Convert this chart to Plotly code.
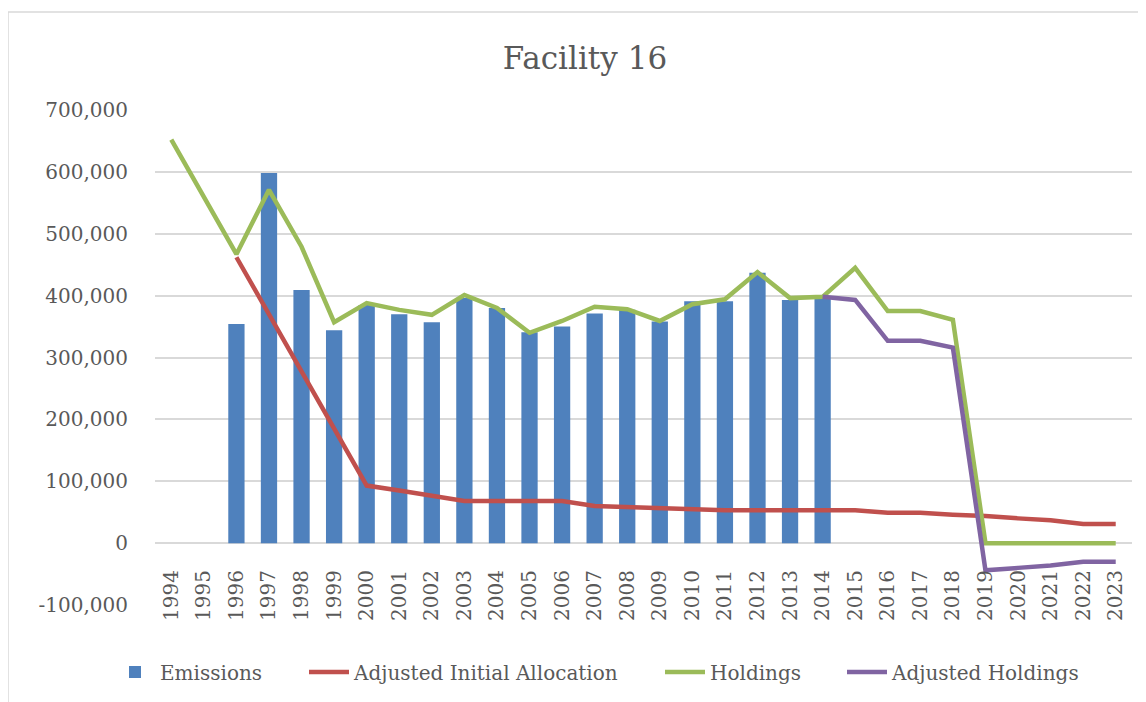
import plotly.graph_objects as go

years = [str(y) for y in range(1994, 2024)]

emissions = [None, None, 354000, 598000, 409000, 344000, 385000, 370000, 357000, 396000,
             380000, 341000, 350000, 371000, 377000, 358000, 391000, 391000, 437000, 393000,
             395000, None, None, None, None, None, None, None, None, None]

adj_initial_allocation = [None, None, 462000, 370000, 280000, 187000, 93000, 85000, 76000, 68000,
                          68000, 68000, 68000, 60000, 58000, 56000, 55000, 53000, 53000, 53000,
                          53000, 53000, 49000, 49000, 46000, 44000, 40000, 37000, 31000, 31000]

holdings = [652000, 558000, 467000, 571000, 479000, 357000, 388000, 377000, 369000, 401000,
            380000, 340000, 359000, 382000, 378000, 359000, 386000, 394000, 438000, 396000,
            398000, 445000, 375000, 375000, 361000, 0, 0, 0, 0, 0]

adj_holdings = [None] * 20 + [398000, 393000, 327000, 327000, 316000, -44000, -40000, -36000, -30000, -30000]

y_ticks = [-100000, 0, 100000, 200000, 300000, 400000, 500000, 600000, 700000]
y_tick_text = [f"{v:,}" for v in y_ticks]

FONT = "DejaVu Serif"
TXT = "#595959"

fig = go.Figure()
fig.add_trace(go.Bar(x=years, y=emissions, name="Emissions", marker_color="#4f81bd",
                     marker_line_width=0, width=0.5, legend="legend"))
fig.add_trace(go.Scatter(x=years, y=adj_initial_allocation, name="Adjusted Initial Allocation",
                         mode="lines", line=dict(color="#c0504d", width=4.5), legend="legend2"))
fig.add_trace(go.Scatter(x=years, y=holdings, name="Holdings",
                         mode="lines", line=dict(color="#9bbb59", width=4.5), legend="legend3"))
fig.add_trace(go.Scatter(x=years, y=adj_holdings, name="Adjusted Holdings",
                         mode="lines", line=dict(color="#8064a2", width=4.5), legend="legend4"))

# page offset (body margin) of 8px in the screenshot
OFF = 8
W, H = 1146, 702
L = 155 - OFF
T = 110 - OFF
plot_right = 1132 - OFF
plot_bottom = 605 - OFF
R = W - plot_right
B = H - plot_bottom
pw, ph = W - L - R, H - T - B

def px_x(x):
    return (x - OFF - L) / pw

def px_y(y):
    return (plot_bottom - (y - OFF)) / ph

def leg(text_start):
    return dict(orientation="h", x=px_x(text_start - 48), xref="paper", xanchor="left",
                y=px_y(672), yanchor="middle",
                font=dict(family=FONT, size=20, color=TXT), itemwidth=40,
                bgcolor="rgba(0,0,0,0)")

fig.update_layout(
    width=W, height=H,
    margin=dict(l=L, r=R, t=T, b=B, autoexpand=False),
    paper_bgcolor="white", plot_bgcolor="white",
    font=dict(family=FONT, color=TXT, size=20),
    title=dict(text="Facility 16", x=px_x(585), xref="paper", xanchor="center",
               y=1 - (58 - OFF) / H, yanchor="middle",
               font=dict(family=FONT, size=31, color=TXT)),
    showlegend=True,
    legend=leg(158),
    legend2=leg(352),
    legend3=leg(708),
    legend4=leg(890),
    bargap=0.5,
    xaxis=dict(type="category", categoryorder="array", categoryarray=years,
               tickangle=-90, tickfont=dict(family=FONT, size=20, color=TXT),
               showgrid=False, showline=False, ticks="", zeroline=False,
               anchor="free", position=px_y(543), ticklabelstandoff=22,
               tickmode="array", tickvals=years, ticktext=years),
    yaxis=dict(range=[-100000, 700000], tickvals=y_ticks, ticktext=y_tick_text,
               tickfont=dict(family=FONT, size=20, color=TXT),
               showgrid=True, gridcolor="#d9d9d9", gridwidth=1.5,
               zeroline=True, zerolinecolor="#d9d9d9", zerolinewidth=1.5,
               showline=False, ticks="", ticklabelstandoff=26),
    shapes=[dict(type="rect", xref="paper", yref="paper",
                 x0=px_x(8), x1=px_x(1160), y0=px_y(715), y1=px_y(12),
                 line=dict(color="#d9d9d9", width=1.5), fillcolor="rgba(0,0,0,0)",
                 layer="below")],
)

fig.write_html("out.html")
